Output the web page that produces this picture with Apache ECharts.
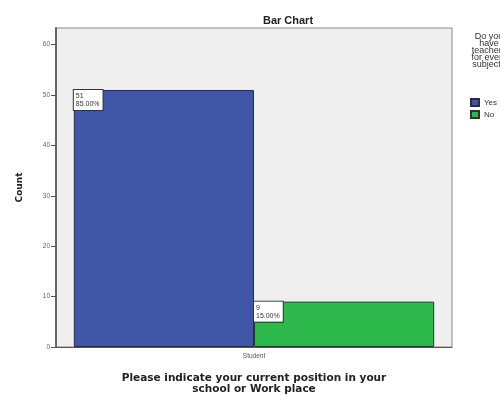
<!DOCTYPE html>
<html>
<head>
<meta charset="utf-8">
<script src="https://cdn.jsdelivr.net/npm/echarts@6/dist/echarts.min.js"></script>
<style>
  html, body { margin: 0; padding: 0; background: #fff; }
  #chart { width: 500px; height: 396px; }
</style>
</head>
<body>
<div id="chart"></div>
<script>
var categories = ['Student'];
var yesCounts = [51];
var noCounts = [9];
var yesPercents = ['85.00%'];
var noPercents = ['15.00%'];
var yTicks = [0, 10, 20, 30, 40, 50, 60];

var chart = echarts.init(document.getElementById('chart'));

function boxLabel(percents) {
    return {
        show: true,
        position: 'insideTopLeft',
        distance: 0,
        formatter: function (p) { return p.value + '\n' + percents[p.dataIndex]; },
        backgroundColor: '#ffffff',
        borderColor: '#333',
        borderWidth: 1,
        padding: [2, 3, 2, 2],
        color: '#333',
        fontSize: 7,
        lineHeight: 8,
        fontFamily: 'Liberation Sans'
    };
}

var option = {
    animation: false,
    title: {
        text: 'Bar Chart',
        left: 283,
        top: 10,
        textAlign: 'center',
        textStyle: { fontSize: 11, fontWeight: 'bold', color: '#222', fontFamily: 'Liberation Sans' }
    },
    grid: {
        left: 56, right: 48, top: 28, bottom: 49,
        outerBoundsMode: 'none',
        containLabel: false,
        show: true,
        backgroundColor: '#efefef',
        borderColor: '#888',
        borderWidth: 1
    },
    legend: {
        orient: 'vertical',
        left: 465,
        top: 93,
        icon: 'rect',
        itemWidth: 8,
        itemHeight: 7,
        itemGap: 3,
        textStyle: { fontSize: 8, color: '#333', fontFamily: 'Liberation Sans' },
        data: ['Yes', 'No']
    },
    graphic: [{
        type: 'text',
        x: 489,
        y: 33,
        style: {
            text: 'Do you\nhave\nteachers\nfor every\nsubject?',
            align: 'center',
            fontSize: 9,
            lineHeight: 7,
            fill: '#333',
            fontFamily: 'Liberation Sans'
        }
    }],
    xAxis: {
        type: 'category',
        data: categories,
        name: 'Please indicate your current position in your\nschool or Work place',
        nameLocation: 'middle',
        nameGap: 26,
        nameTextStyle: { fontSize: 10.5, fontWeight: 'bold', color: '#222', lineHeight: 11, fontFamily: 'DejaVu Sans' },
        axisLine: { lineStyle: { color: '#555', width: 1 } },
        axisTick: { alignWithLabel: true, length: 5, lineStyle: { color: '#333' } },
        axisLabel: { fontSize: 6.5, color: '#555', margin: 6, fontFamily: 'Liberation Sans' }
    },
    yAxis: {
        type: 'value',
        min: 0,
        max: 63.3,
        name: 'Count',
        nameLocation: 'middle',
        nameGap: 32,
        nameTextStyle: { fontSize: 9, fontWeight: 'bold', color: '#222', fontFamily: 'DejaVu Sans' },
        axisLine: { show: true, lineStyle: { color: '#666', width: 2 } },
        axisTick: { show: true, length: 5, customValues: yTicks, lineStyle: { color: '#555' } },
        axisLabel: { fontSize: 6.5, color: '#666', margin: 6, customValues: yTicks, fontFamily: 'Liberation Sans' },
        splitLine: { show: false }
    },
    series: [{
        name: 'Yes',
        type: 'bar',
        data: yesCounts,
        barGap: '0%',
        barCategoryGap: '9%',
        itemStyle: { color: '#3f55a6', borderColor: '#2a2a4a', borderWidth: 1 },
        label: boxLabel(yesPercents)
    }, {
        name: 'No',
        type: 'bar',
        data: noCounts,
        itemStyle: { color: '#2db84b', borderColor: '#2a3a2a', borderWidth: 1 },
        label: boxLabel(noPercents)
    }]
};

chart.setOption(option);
</script>
</body>
</html>
